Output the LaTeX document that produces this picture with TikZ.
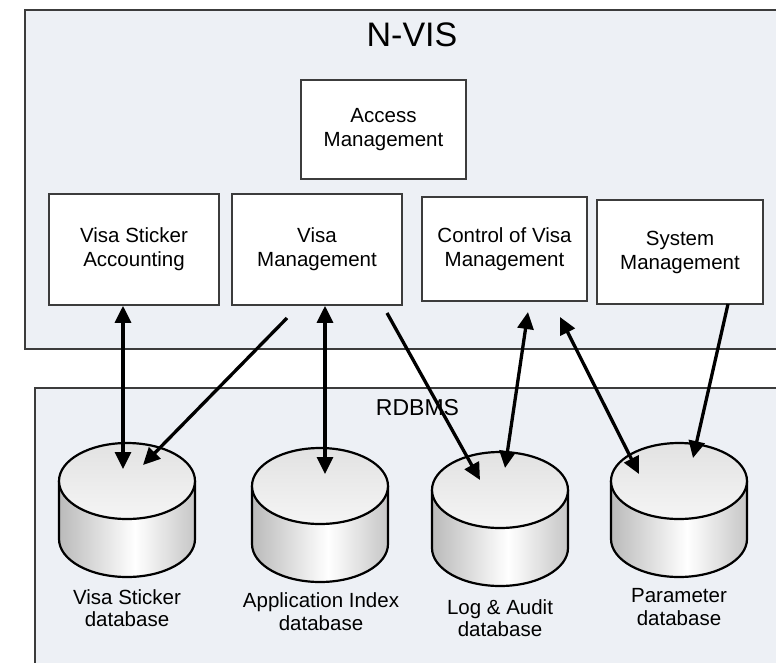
\documentclass[tikz,border=0pt]{standalone}
\usepackage{fontspec}
\setmainfont{Liberation Sans}
\usetikzlibrary{arrows.meta,calc}

\definecolor{panelfill}{RGB}{237,240,245}
\definecolor{edge}{RGB}{60,60,60}
\definecolor{cylL}{RGB}{186,186,186}
\definecolor{cylR}{RGB}{198,198,198}
\definecolor{cylTop}{RGB}{226,226,226}

% side of a drum: grey at the rims, bright just right of the middle
\pgfdeclarehorizontalshading{dbbody}{100bp}{color(0bp)=(cylL); color(25bp)=(cylL); color(53bp)=(white); color(75bp)=(cylR); color(100bp)=(cylR)}
% lid of a drum: grey at the back, white at the front
\pgfdeclareverticalshading{dbtop}{100bp}{color(0bp)=(white); color(25bp)=(white!96!black); color(75bp)=(cylTop); color(100bp)=(cylTop)}

\tikzset{
  panelbox/.style={draw=edge, line width=1.3pt, fill=panelfill, inner sep=0pt, outer sep=0pt},
  modbox/.style={draw=edge, line width=1.6pt, fill=white, align=center, inner sep=0pt,
    font=\fontsize{20.5}{24}\selectfont},
  dbnode/.style={minimum width=136pt, minimum height=134pt, inner sep=0pt, outer sep=0pt},
  dbline/.style={draw=black, line width=2.2pt},
  dblabel/.style={align=center, inner sep=0pt, font=\fontsize{20.5}{22.5}\selectfont},
  link/.style={line width=3.3pt, -{Triangle[length=17pt,width=16pt]}},
  bilink/.style={line width=3.3pt, {Triangle[length=17pt,width=16pt]}-{Triangle[length=17pt,width=16pt]}}
}

% draws the drum for a database node #1
\newcommand\dbdrum[1]{%
  \shade[shading=dbbody] ($(#1.north west)+(0,38)$) -- ($(#1.south west)+(0,-38)$)
    arc[start angle=180,end angle=0,x radius=68,y radius=38] -- ($(#1.north east)+(0,38)$) -- cycle;
  \draw[dbline] ($(#1.north west)+(0,38)$) -- ($(#1.south west)+(0,-38)$)
    arc[start angle=180,end angle=0,x radius=68,y radius=38] -- ($(#1.north east)+(0,38)$);
  \shadedraw[shading=dbtop, dbline] ($(#1.north)+(0,38)$) ellipse[x radius=68, y radius=38];
}

\begin{document}
\begin{tikzpicture}[x=1pt, y=-1pt]
\useasboundingbox (0,0) rectangle (776,662);

% the two layers
\node[panelbox, anchor=north west, minimum width=780pt, minimum height=339pt] (nvis) at (25,10) {};
\node[font=\fontsize{34}{40}\selectfont, inner sep=0pt] (nvisT) at (412,35) {N-VIS};

\node[panelbox, anchor=north west, minimum width=770pt, minimum height=300pt] (rdbms) at (35,388) {};
\node[font=\fontsize{23}{26}\selectfont, inner sep=0pt] (rdbmsT) at (417.5,408) {RDBMS};

% application modules
\node[modbox, minimum width=165pt, minimum height=99pt] (acc) at (383.5,129.5) {Access\\Management};
\node[modbox, minimum width=170pt, minimum height=111pt] (vsa) at (134,249.5) {Visa Sticker\\Accounting};
\node[modbox, minimum width=170pt, minimum height=111pt] (vm) at (317,249.5) {Visa\\Management};
\node[modbox, minimum width=165pt, minimum height=104pt] (cvm) at (504.5,249) {Control of Visa\\Management};
\node[modbox, minimum width=166pt, minimum height=104pt] (sm) at (680,252) {System\\Management};

% databases
\node[dbnode] (vsdb) at (127,510) {};
\node[dbnode] (aidb) at (320,515) {};
\node[dbnode] (ladb) at (500,519) {};
\node[dbnode] (pdb) at (679,510) {};
\dbdrum{vsdb}
\dbdrum{aidb}
\dbdrum{ladb}
\dbdrum{pdb}

\node[dblabel] (vsdbL) at (127,608) {Visa Sticker\\database};
\node[dblabel] (aidbL) at (321,611.5) {Application Index\\database};
\node[dblabel] (ladbL) at (500,618) {Log \& Audit\\database};
\node[dblabel] (pdbL) at (679,607) {Parameter\\database};

% connector ends
\coordinate (vsdbA) at (123,469);
\coordinate (vsdbB) at (143,465);
\coordinate (aidbA) at (325,474);
\coordinate (ladbA) at (480,480);
\coordinate (ladbB) at (505,468);
\coordinate (pdbA) at (639,474);
\coordinate (pdbB) at (693,458);
\coordinate (vmOutL) at (287,318);
\coordinate (vmOutR) at (387,313);
\coordinate (cvmInL) at (528,312);
\coordinate (cvmInR) at (560,317);
\coordinate (smOut) at (728,304);

% data flows
\draw[bilink] (vsa.south -| vsdbA) -- (vsdbA);
\draw[link] (vmOutL) -- (vsdbB);
\draw[bilink] (vm.south -| aidbA) -- (aidbA);
\draw[link] (vmOutR) -- (ladbA);
\draw[bilink] (cvmInL) -- (ladbB);
\draw[bilink] (cvmInR) -- (pdbA);
\draw[link] (smOut) -- (pdbB);
\end{tikzpicture}
\end{document}
